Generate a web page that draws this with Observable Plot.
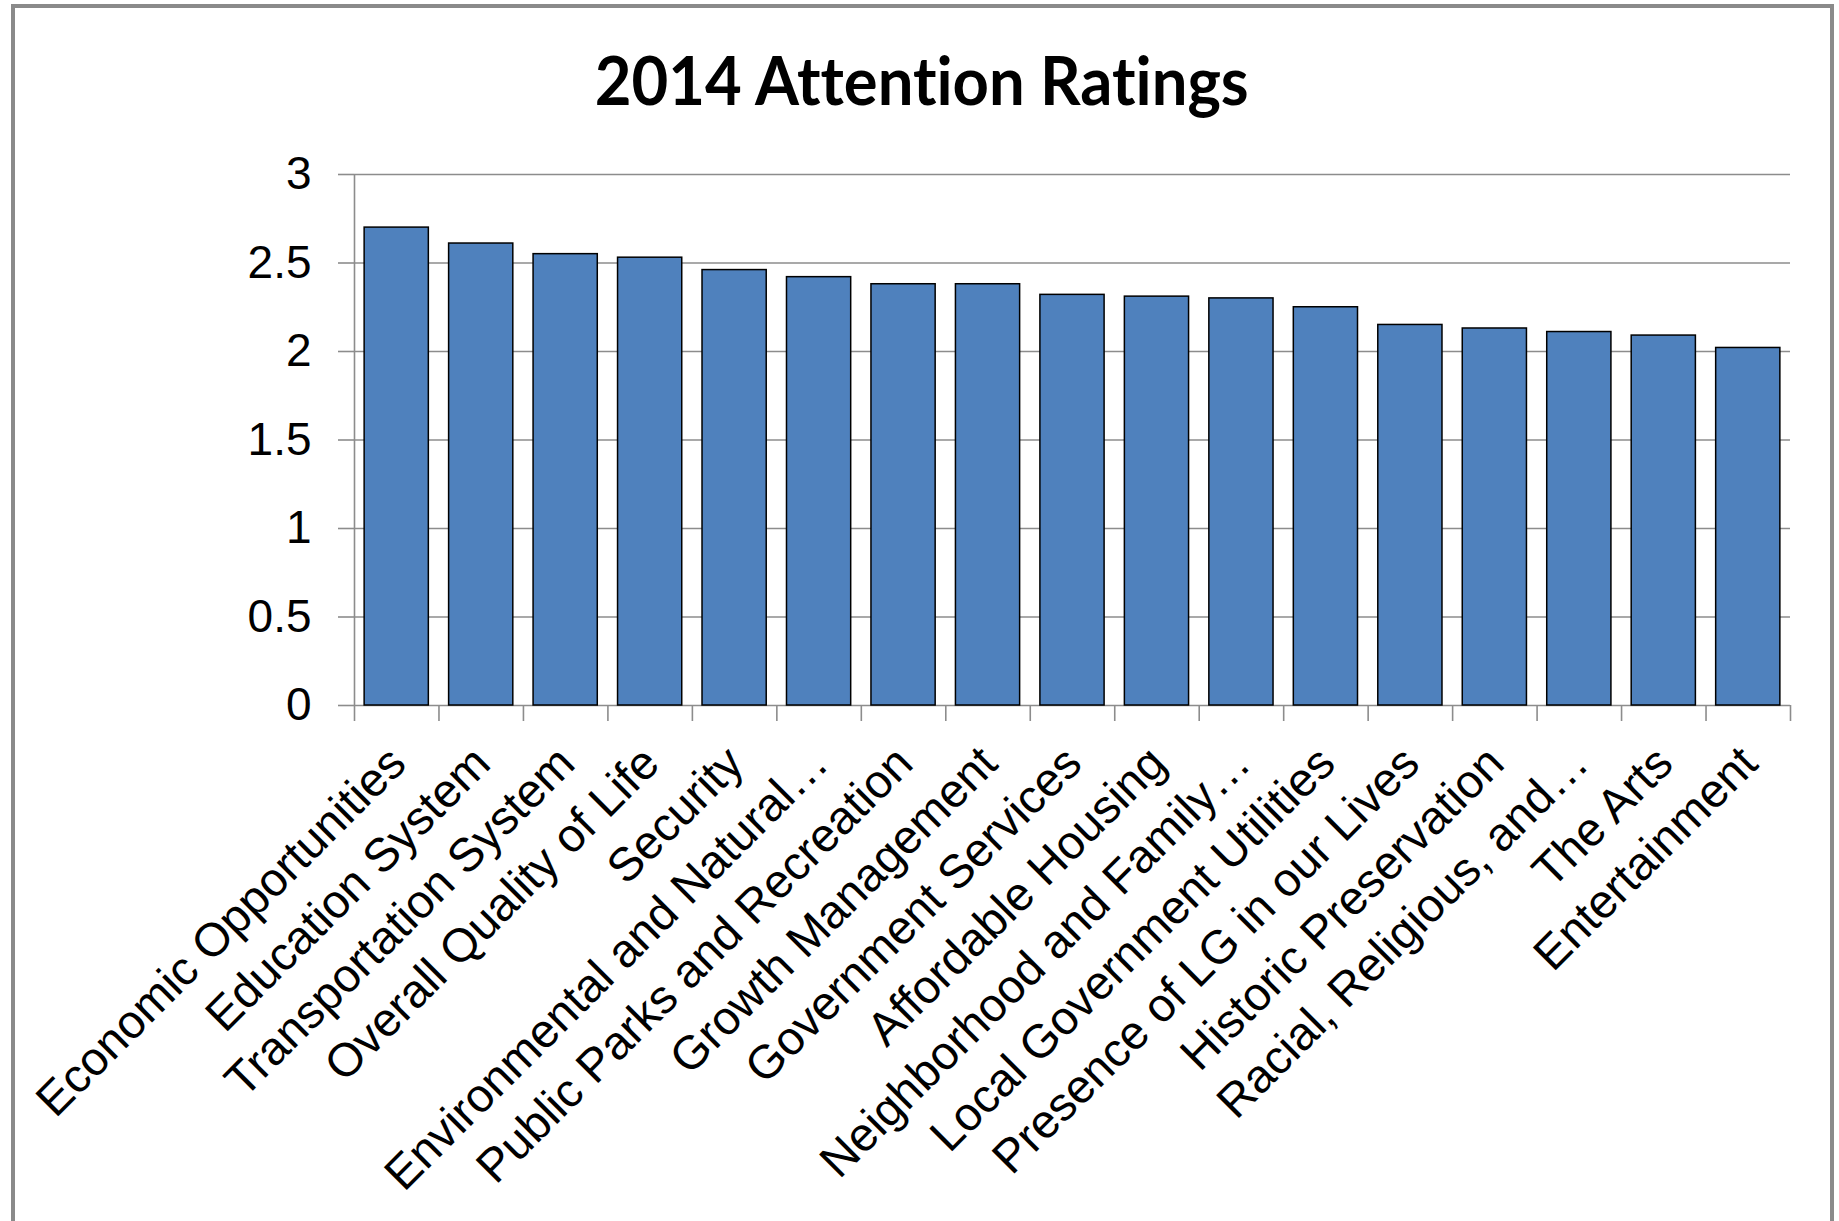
<!DOCTYPE html>
<html>
<head>
<meta charset="utf-8">
<script src="https://cdn.jsdelivr.net/npm/d3@7"></script>
<script src="https://cdn.jsdelivr.net/npm/@observablehq/plot@0.6"></script>
<style>
html, body { margin: 0; padding: 0; background: #fff; overflow: hidden; }
#wrap { position: relative; width: 1839px; height: 1221px; overflow: hidden; background: #fff; }
#frame { position: absolute; left: 11px; top: 4px; width: 1823px; height: 1260px; border: 4px solid #8a8a8a; box-sizing: border-box; }
#chart { position: absolute; left: 0; top: 0; }
#title { position: absolute; left: 2px; width: 1839px; top: 44px; text-align: center; font-family: Lato, "Open Sans", sans-serif; font-weight: 700; font-size: 66px; line-height: 66px; color: #000; white-space: nowrap; font-variant-ligatures: none; }
#tt { display: inline-block; transform-origin: 50% 50%; }
#strut { display: inline-block; width: 0; height: 0; vertical-align: baseline; }
</style>
</head>
<body>
<div id="wrap">
  <div id="frame"></div>
  <div id="chart"></div>
  <div id="title"><span id="tt"></span><span id="strut"></span></div>
</div>
<script>
const titleText = "2014 Attention Ratings";

const categories = [
  "Economic Opportunities",
  "Education System",
  "Transportation System",
  "Overall Quality of Life",
  "Security",
  "Environmental and Natural…",
  "Public Parks and Recreation",
  "Growth Management",
  "Government Services",
  "Affordable Housing",
  "Neighborhood and Family…",
  "Local Government Utilities",
  "Presence of LG in our Lives",
  "Historic Preservation",
  "Racial, Religious, and…",
  "The Arts",
  "Entertainment"
];

const ratings = [2.70, 2.61, 2.55, 2.53, 2.46, 2.42, 2.38, 2.38, 2.32, 2.31, 2.30, 2.25, 2.15, 2.13, 2.11, 2.09, 2.02];

const yTicks = [0, 0.5, 1, 1.5, 2, 2.5, 3];
const yTickLabels = ["0", "0.5", "1", "1.5", "2", "2.5", "3"];

const data = categories.map((c, i) => ({category: c, rating: ratings[i]}));

const W = 1839, H = 1221;
const mL = 354, mR = 49, mT = 174, mB = 516;
const step = (W - mL - mR) / categories.length;
const gray = "#8c8c8c";

const chart = Plot.plot({
  width: W,
  height: H,
  marginLeft: mL,
  marginRight: mR,
  marginTop: mT,
  marginBottom: mB,
  style: {fontFamily: '"Liberation Sans", Arial, sans-serif', background: "transparent", color: "#000", overflow: "visible"},
  x: {domain: categories, paddingInner: 0.24, paddingOuter: 0.12, round: false, axis: null},
  y: {domain: [0, 3], axis: null},
  marks: [
    Plot.ruleY(yTicks, {stroke: gray, strokeWidth: 1.6}),
    Plot.axisY({
      ticks: yTicks,
      tickSize: 16,
      tickPadding: 27,
      fontSize: 46,
      stroke: gray,
      strokeWidth: 1.6,
      fill: "#000",
      label: null,
      tickFormat: d => yTickLabels[yTicks.indexOf(d)]
    }),
    Plot.ruleX([categories[0]], {x: d => d, y1: 0, y2: 3, dx: -step / 2, stroke: gray, strokeWidth: 1.6}),
    Plot.ruleX(categories, {x: d => d, y1: 0, y2: 0, insetBottom: -16, dx: -step / 2, stroke: gray, strokeWidth: 1.6}),
    Plot.ruleX([categories[categories.length - 1]], {x: d => d, y1: 0, y2: 0, insetBottom: -16, dx: step / 2, stroke: gray, strokeWidth: 1.6}),
    Plot.barY(data, {x: "category", y: "rating", fill: "#4F81BD", stroke: "#000", strokeWidth: 1.5}),
    Plot.text(data, {
      x: "category",
      y: d => 0,
      text: "category",
      rotate: -45,
      textAnchor: "end",
      lineAnchor: "top",
      dx: -12,
      dy: 37,
      fontSize: 47,
      fill: "#000"
    })
  ]
});
document.getElementById("chart").appendChild(chart);

// Title as real text, fitted to the reference width and baseline
const tt = document.getElementById("tt");
tt.textContent = titleText;
const w = tt.getBoundingClientRect().width;
tt.style.transform = `scaleX(${654 / w})`;
const titleDiv = document.getElementById("title");
const strut = document.getElementById("strut");
const wrapTop = document.getElementById("wrap").getBoundingClientRect().top;
const baseline = strut.getBoundingClientRect().bottom - wrapTop;
titleDiv.style.top = (44 + (105 - baseline)) + "px";
</script>
</body>
</html>
